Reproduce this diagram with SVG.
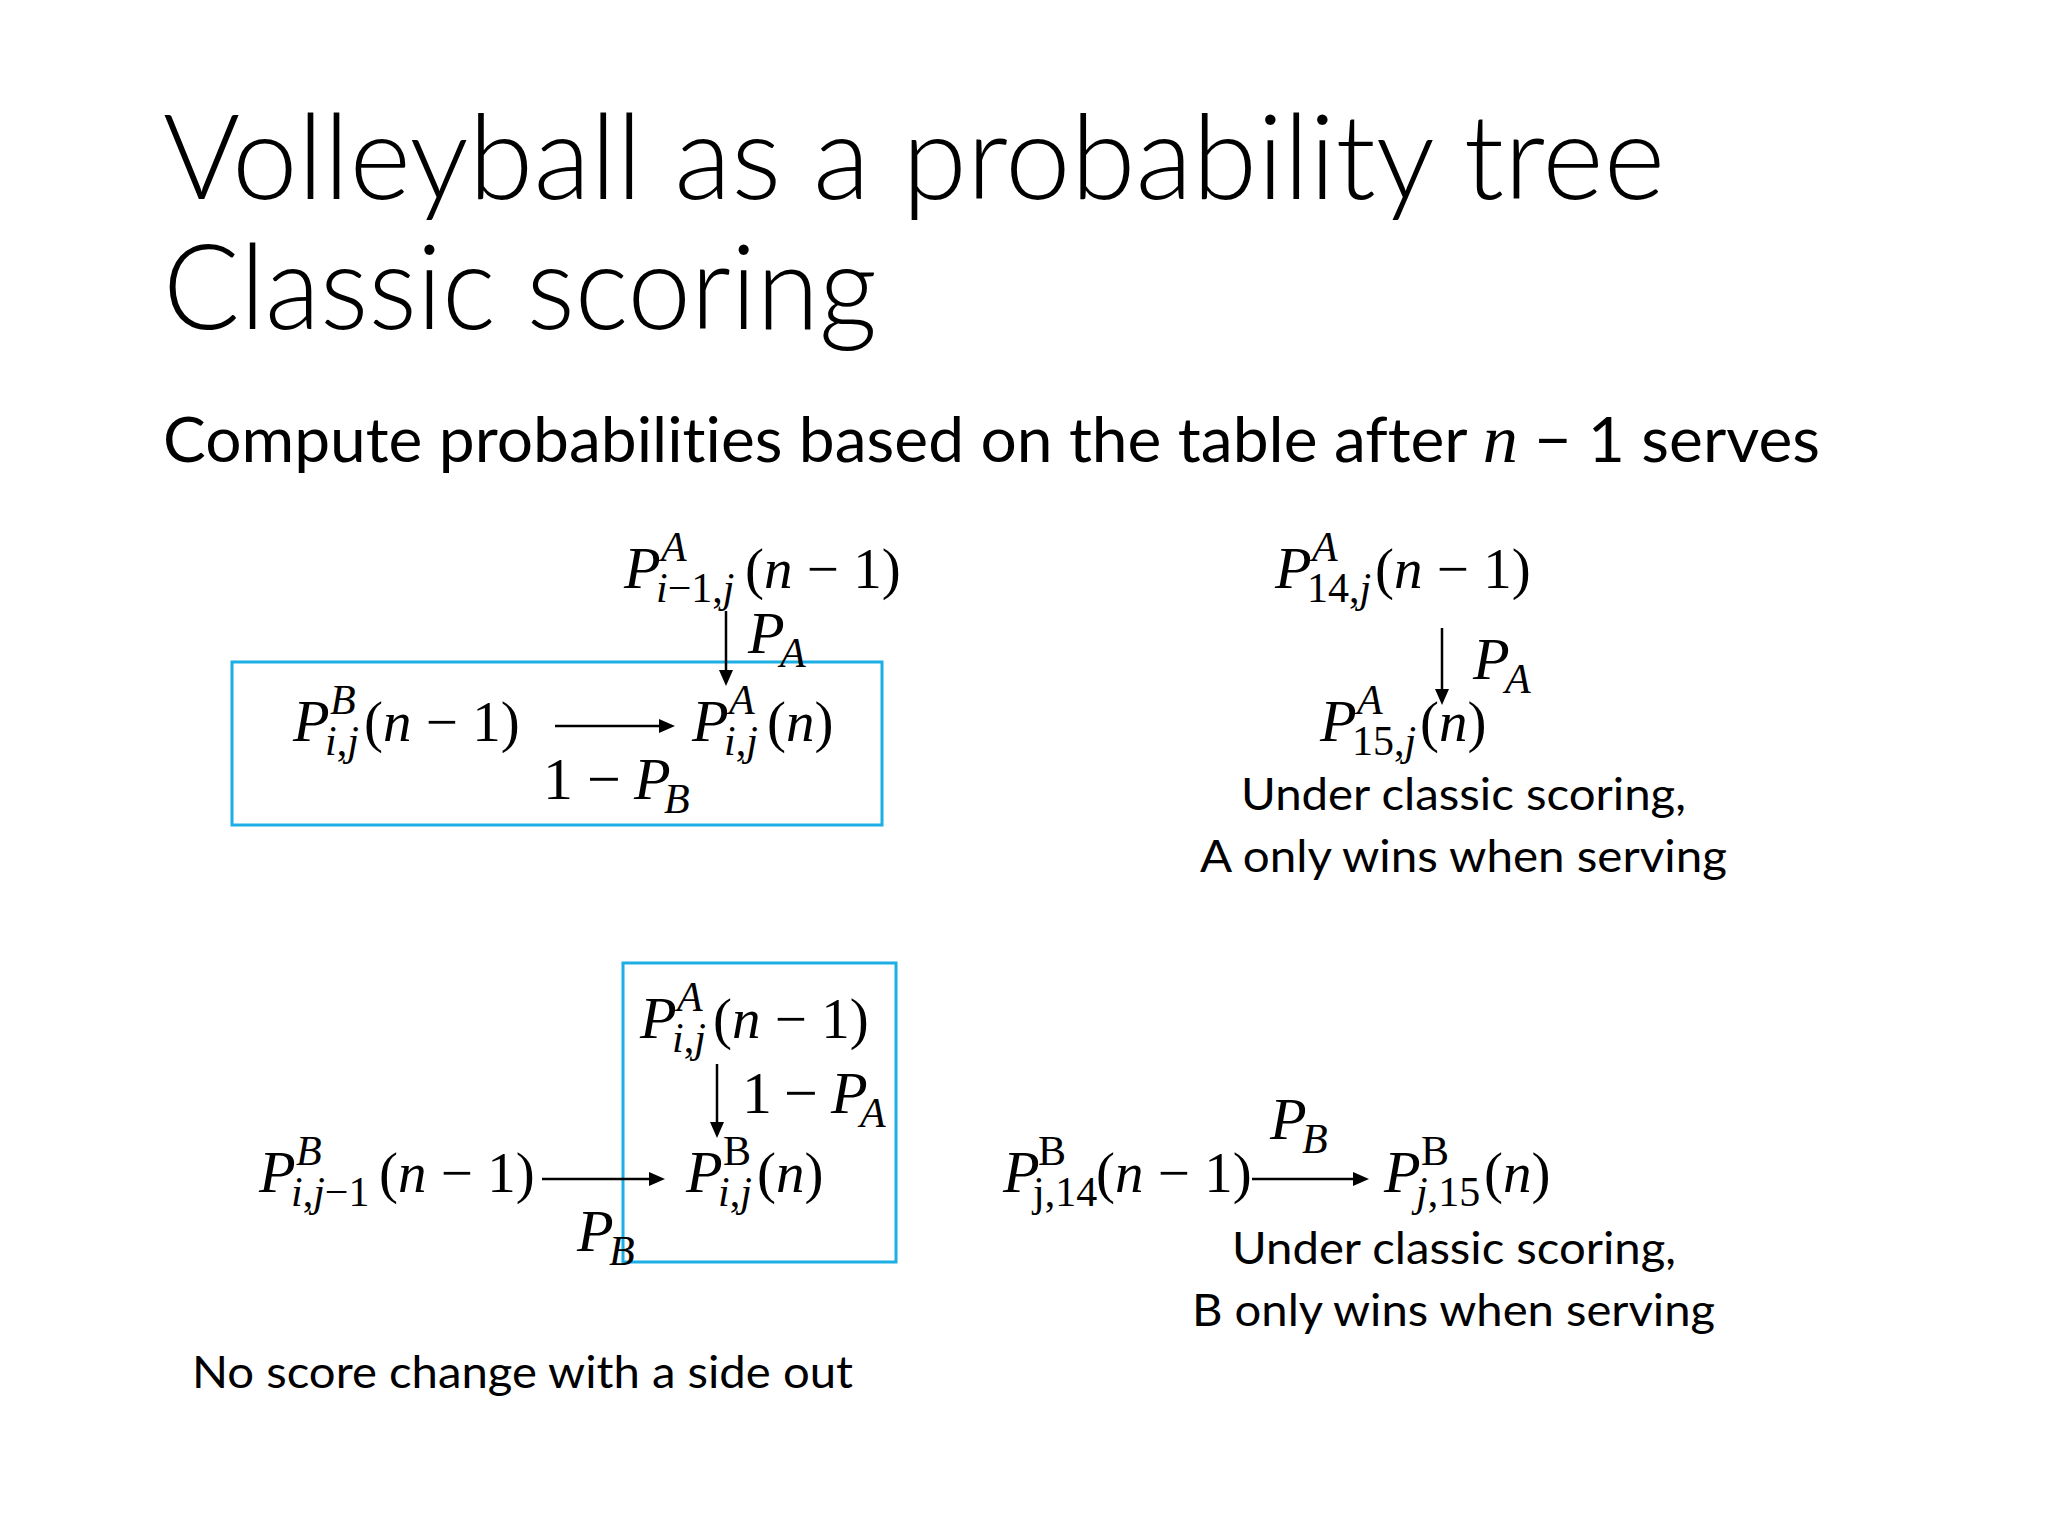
<svg xmlns="http://www.w3.org/2000/svg" width="2048" height="1536" viewBox="0 0 2048 1536">
<defs>
<style>
.title{font-family:Lato,"Open Sans","Liberation Sans",sans-serif;font-weight:300;font-size:118px;fill:#000;font-variant-ligatures:none}
.sub{font-family:Lato,"Open Sans","Liberation Sans",sans-serif;font-size:62px;fill:#000;font-variant-ligatures:none}
.body{font-family:Lato,"Open Sans","Liberation Sans",sans-serif;font-size:44px;fill:#000;font-variant-ligatures:none}
.m{font-family:"Liberation Serif","DejaVu Serif",serif;font-size:60px;fill:#000}
.s{font-size:42px}
.p{font-size:57px}
.i{font-style:italic}
.box{fill:none;stroke:#1CAEE4;stroke-width:3}
.conn{stroke:#000;stroke-width:2.5;fill:none}
</style>
<marker id="ah" markerUnits="userSpaceOnUse" markerWidth="16" markerHeight="14" refX="4" refY="7" orient="auto">
<path d="M0,0 L16,7 L0,14 z" fill="#000"/>
</marker>
</defs>
<rect width="2048" height="1536" fill="#fff"/>

<g id="title">
<text class="title" x="163" y="199" textLength="1502" lengthAdjust="spacingAndGlyphs">Volleyball as a probability tree</text>
<text class="title" x="163" y="329" textLength="714" lengthAdjust="spacingAndGlyphs">Classic scoring</text>
<text class="sub" x="163" y="462" textLength="1657" lengthAdjust="spacingAndGlyphs">Compute probabilities based on the table after <tspan font-family="Liberation Serif, serif" font-style="italic" font-size="68px">n</tspan> − 1 serves</text>
</g>

<g id="box1"><rect class="box" x="232" y="662" width="650" height="163"/></g>
<g id="box2"><rect class="box" x="623" y="963" width="273" height="299"/></g>

<g id="connectors">
<line class="conn" x1="726" y1="611" x2="726" y2="674" marker-end="url(#ah)"/>
<line class="conn" x1="555" y1="726" x2="663" y2="726" marker-end="url(#ah)"/>
<line class="conn" x1="1442" y1="628" x2="1442" y2="693" marker-end="url(#ah)"/>
<line class="conn" x1="717" y1="1064" x2="717" y2="1126" marker-end="url(#ah)"/>
<line class="conn" x1="542" y1="1179" x2="653" y2="1179" marker-end="url(#ah)"/>
<line class="conn" x1="1252" y1="1179" x2="1357" y2="1179" marker-end="url(#ah)"/>
</g>

<!-- Diagram 1 -->
<g id="n_PA_im1j_n1">
<text class="m"><tspan class="i" x="624" y="588">P</tspan><tspan class="s i" x="661" y="561">A</tspan><tspan class="s" x="656" y="602"><tspan class="i">i</tspan>−1,<tspan class="i">j</tspan></tspan><tspan class="p" x="745" y="588">(<tspan class="i">n</tspan> − 1)</tspan></text>
</g>
<g id="lbl_PA_1">
<text class="m"><tspan class="i" x="748" y="653">P</tspan><tspan class="s i" x="780" y="667">A</tspan></text>
</g>
<g id="n_PB_ij_n1">
<text class="m"><tspan class="i" x="293" y="741">P</tspan><tspan class="s i" x="330" y="714">B</tspan><tspan class="s" x="325" y="755"><tspan class="i">i</tspan>,<tspan class="i">j</tspan></tspan><tspan class="p" x="364" y="741">(<tspan class="i">n</tspan> − 1)</tspan></text>
</g>
<g id="n_PA_ij_n">
<text class="m"><tspan class="i" x="692" y="741">P</tspan><tspan class="s i" x="729" y="714">A</tspan><tspan class="s" x="724" y="755"><tspan class="i">i</tspan>,<tspan class="i">j</tspan></tspan><tspan class="p" x="767" y="741">(<tspan class="i">n</tspan>)</tspan></text>
</g>
<g id="lbl_1mPB">
<text class="m"><tspan x="543" y="799">1</tspan><tspan x="587" y="799">−</tspan><tspan class="i" x="634" y="799">P</tspan><tspan class="s i" x="664" y="813">B</tspan></text>
</g>

<!-- Diagram 2 -->
<g id="n_PA_14j_n1">
<text class="m"><tspan class="i" x="1275" y="588">P</tspan><tspan class="s i" x="1312" y="561">A</tspan><tspan class="s" x="1307" y="602">14,<tspan class="i">j</tspan></tspan><tspan class="p" x="1375" y="588">(<tspan class="i">n</tspan> − 1)</tspan></text>
</g>
<g id="lbl_PA_2">
<text class="m"><tspan class="i" x="1473" y="679">P</tspan><tspan class="s i" x="1505" y="693">A</tspan></text>
</g>
<g id="n_PA_15j_n">
<text class="m"><tspan class="i" x="1320" y="741">P</tspan><tspan class="s i" x="1357" y="714">A</tspan><tspan class="s" x="1352" y="755">15,<tspan class="i">j</tspan></tspan><tspan class="p" x="1420" y="741">(<tspan class="i">n</tspan>)</tspan></text>
</g>
<g id="note_A">
<text class="body" x="1241" y="810" textLength="445" lengthAdjust="spacingAndGlyphs">Under classic scoring,</text>
<text class="body" x="1200" y="872" textLength="527" lengthAdjust="spacingAndGlyphs">A only wins when serving</text>
</g>

<!-- Diagram 3 -->
<g id="n_PA_ij_n1">
<text class="m"><tspan class="i" x="640" y="1038">P</tspan><tspan class="s i" x="677" y="1011">A</tspan><tspan class="s" x="672" y="1052"><tspan class="i">i</tspan>,<tspan class="i">j</tspan></tspan><tspan class="p" x="713" y="1038">(<tspan class="i">n</tspan> − 1)</tspan></text>
</g>
<g id="lbl_1mPA">
<text class="m"><tspan x="742" y="1113">1</tspan><tspan x="784" y="1113">−</tspan><tspan class="i" x="831" y="1113">P</tspan><tspan class="s i" x="860" y="1127">A</tspan></text>
</g>
<g id="n_PB_ijm1_n1">
<text class="m"><tspan class="i" x="259" y="1192">P</tspan><tspan class="s i" x="296" y="1165">B</tspan><tspan class="s" x="291" y="1206"><tspan class="i">i</tspan>,<tspan class="i">j</tspan>−1</tspan><tspan class="p" x="379" y="1192">(<tspan class="i">n</tspan> − 1)</tspan></text>
</g>
<g id="n_PB_ij_n">
<text class="m"><tspan class="i" x="686" y="1192">P</tspan><tspan class="s" x="723" y="1165">B</tspan><tspan class="s" x="718" y="1206"><tspan class="i">i</tspan>,<tspan class="i">j</tspan></tspan><tspan class="p" x="757" y="1192">(<tspan class="i">n</tspan>)</tspan></text>
</g>
<g id="lbl_PB_3">
<text class="m"><tspan class="i" x="577" y="1251">P</tspan><tspan class="s i" x="609" y="1265">B</tspan></text>
</g>
<g id="note_sideout">
<text class="body" x="192" y="1388" textLength="661" lengthAdjust="spacingAndGlyphs">No score change with a side out</text>
</g>

<!-- Diagram 4 -->
<g id="n_PB_j14_n1">
<text class="m"><tspan class="i" x="1003" y="1192">P</tspan><tspan class="s" x="1038" y="1165">B</tspan><tspan class="s" x="1033" y="1206">j,14</tspan><tspan class="p" x="1096" y="1192">(<tspan class="i">n</tspan> − 1)</tspan></text>
</g>
<g id="lbl_PB_4">
<text class="m"><tspan class="i" x="1270" y="1139">P</tspan><tspan class="s i" x="1302" y="1153">B</tspan></text>
</g>
<g id="n_PB_j15_n">
<text class="m"><tspan class="i" x="1384" y="1192">P</tspan><tspan class="s" x="1421" y="1165">B</tspan><tspan class="s" x="1416" y="1206"><tspan class="i">j</tspan>,15</tspan><tspan class="p" x="1484" y="1192">(<tspan class="i">n</tspan>)</tspan></text>
</g>
<g id="note_B">
<text class="body" x="1232" y="1264" textLength="444" lengthAdjust="spacingAndGlyphs">Under classic scoring,</text>
<text class="body" x="1192" y="1326" textLength="523" lengthAdjust="spacingAndGlyphs">B only wins when serving</text>
</g>
</svg>
